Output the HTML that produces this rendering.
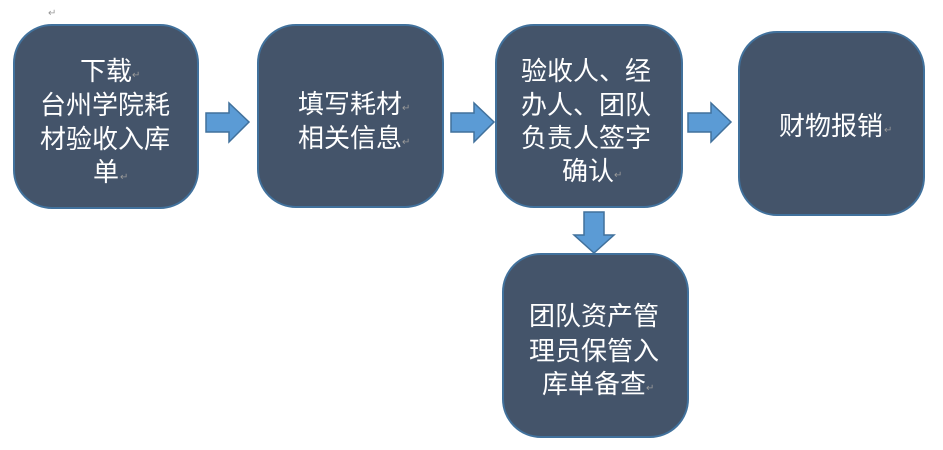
<!DOCTYPE html>
<html><head><meta charset="utf-8"><style>
html,body{margin:0;padding:0;background:#fff;}
svg{display:block;}
text{font-family:"Liberation Sans","Noto Sans CJK SC",sans-serif;}
.t{fill:#fff;font-size:26px;}
.r{fill:#999;font-size:10px;}
</style></head><body>
<svg width="943" height="450" viewBox="0 0 943 450">
<g fill="#44546a" stroke="#41719c" stroke-width="2">
<rect x="14" y="25" width="184" height="183" rx="38"/>
<rect x="258" y="25" width="185" height="182" rx="38"/>
<rect x="496" y="25" width="186" height="182" rx="38"/>
<rect x="739" y="32" width="185" height="183" rx="38"/>
<rect x="503" y="254" width="185" height="183" rx="38"/>
</g>
<g fill="#5b9bd5" stroke="#41719c" stroke-width="1.5">
<polygon points="206,113 229,113 229,103 249,122 229,142 229,132 206,132"/>
<polygon points="451,113 474,113 474,103 494,122 474,142 474,132 451,132"/>
<polygon points="688,113 711,113 711,103 731,122 711,142 711,132 688,132"/>
<polygon points="584,212 604,212 604,235 614,235 594,253 574,235 584,235"/>
</g>
<text class="r" x="48" y="16">↵</text>
<g class="t">
<text x="80" y="80">下载</text>
<text x="40" y="114">台州学院耗</text>
<text x="40" y="148">材验收入库</text>
<text x="93" y="181">单</text>
<text x="298" y="113">填写耗材</text>
<text x="298" y="147">相关信息</text>
<text x="521" y="80">验收人、经</text>
<text x="521" y="114">办人、团队</text>
<text x="521" y="147">负责人签字</text>
<text x="562" y="180">确认</text>
<text x="779" y="135">财物报销</text>
<text x="529" y="325">团队资产管</text>
<text x="529" y="360">理员保管入</text>
<text x="542" y="393">库单备查</text>
</g>
<g class="r">
<text x="132" y="78">↵</text>
<text x="120" y="180">↵</text>
<text x="402" y="111">↵</text>
<text x="402" y="145">↵</text>
<text x="614" y="178">↵</text>
<text x="884" y="133">↵</text>
<text x="646" y="391">↵</text>
</g>
</svg>
</body></html>
